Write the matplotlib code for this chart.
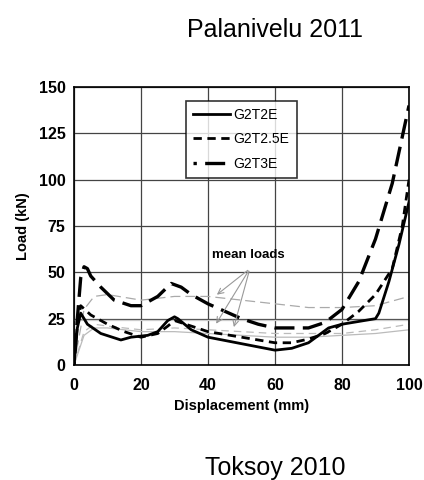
import numpy as np
import matplotlib

matplotlib.use('Agg')
import matplotlib.pyplot as plt

plt.rcParams['font.family'] = ['Liberation Sans', 'DejaVu Sans']

# crushing curves (displacement mm, load kN)
x_2e = [0, 1, 2, 4, 8, 14, 17, 22, 25, 28, 30, 31, 35, 40, 50, 60, 65, 70, 76, 80, 90, 91, 94, 97, 100]
y_2e = [0, 20, 28, 22, 17, 13.5, 15, 16, 18, 24, 26, 25, 19, 15, 11.5, 8, 9, 12, 20, 22, 25, 28, 45, 65, 88]

x_25e = [0, 1, 2, 5, 10, 15, 20, 25, 28, 30, 35, 40, 50, 60, 65, 70, 75, 80, 85, 90, 95, 98, 100]
y_25e = [0, 22, 32, 27, 22, 18, 15, 17, 21, 24, 21, 18, 15, 12, 12, 14, 17, 22, 29, 38, 52, 75, 100]

x_3e = [0, 1, 2, 3, 4, 5, 8, 12, 17, 20, 25, 29, 32, 35, 40, 45, 50, 55, 60, 65, 70, 75, 80, 85, 90, 95, 100]
y_3e = [0, 25, 47, 53, 52, 48, 42, 35, 32, 32, 37, 44, 42, 38, 33, 29, 25, 22, 20, 20, 20, 23, 30, 45, 68, 98, 140]

# mean load curves
xm = [0, 3, 6, 10, 20, 30, 40, 50, 60, 70, 80, 90, 100]
mean_3e = [0, 30, 37, 38, 35, 37, 37, 35, 33, 31, 31, 32, 37]
mean_25e = [0, 18, 22, 21, 19, 20, 19, 18, 17, 17, 17, 19, 22]
mean_2e = [0, 16, 20, 20, 18, 18, 17, 16, 15, 15, 16, 17, 19]

fig = plt.figure(figsize=(4.24, 4.8), dpi=100)
ax = fig.add_axes([74 / 424, 1 - 365 / 480, 335 / 424, 278 / 480])

ax.grid(True, color='#444444', linewidth=0.9)
ax.set_axisbelow(True)
ax.axhline(24.5, color='#cccccc', linewidth=0.9, zorder=1)

ax.plot(xm, mean_3e, color='#aaaaaa', linestyle=(0, (8, 4)), linewidth=0.9)
ax.plot(xm, mean_25e, color='#bbbbbb', linestyle=(0, (6, 4)), linewidth=0.9)
ax.plot(xm, mean_2e, color='#bbbbbb', linewidth=0.9)

ax.plot(x_2e, y_2e, color='black', linewidth=2.0, label='G2T2E')
ax.plot(x_25e, y_25e, color='black', linewidth=2.0, linestyle=(0, (3, 2)), label='G2T2.5E')
ax.plot(x_3e, y_3e, color='black', linewidth=2.4, linestyle=(5, (6, 2.5)), label='G2T3E')

ax.set_xlim(0, 100)
ax.set_ylim(0, 150)
ax.set_xticks([0, 20, 40, 60, 80, 100])
ax.set_yticks([0, 25, 50, 75, 100, 125, 150])
ax.tick_params(length=0, labelsize=11.5, pad=6)
ax.tick_params(axis='x', pad=9)
for lab in ax.get_xticklabels() + ax.get_yticklabels():
    lab.set_fontweight('bold')
for sp in ax.spines.values():
    sp.set_linewidth(1.2)

ax.set_xlabel('Displacement (mm)', fontsize=10.5, fontweight='bold', labelpad=5)
ax.set_ylabel('Load (kN)', fontsize=10.5, fontweight='bold', labelpad=6)

ax.annotate('mean loads', xy=(52.5, 53), xytext=(52, 56), fontsize=9.5, fontweight='bold',
            ha='center', va='bottom')
for tx, ty in [(42, 37), (42, 21), (47.5, 19)]:
    ax.annotate('', xy=(tx, ty), xytext=(52.5, 52),
                arrowprops=dict(arrowstyle='->', color='#999999', linewidth=0.8))

leg = ax.legend(loc='upper center', bbox_to_anchor=(0.5, 0.975), fontsize=10,
                frameon=True, fancybox=False, edgecolor='black', handlelength=2.6,
                handletextpad=0.3, borderpad=0.5, labelspacing=0.75)
leg.get_frame().set_linewidth(1.2)

fig.text(275 / 424, 1 - 30 / 480, 'Palanivelu 2011', fontsize=18, ha='center', va='center')
fig.text(275 / 424, 1 - 468 / 480, 'Toksoy 2010', fontsize=18, ha='center', va='center')

plt.savefig('out.png', dpi=100)
